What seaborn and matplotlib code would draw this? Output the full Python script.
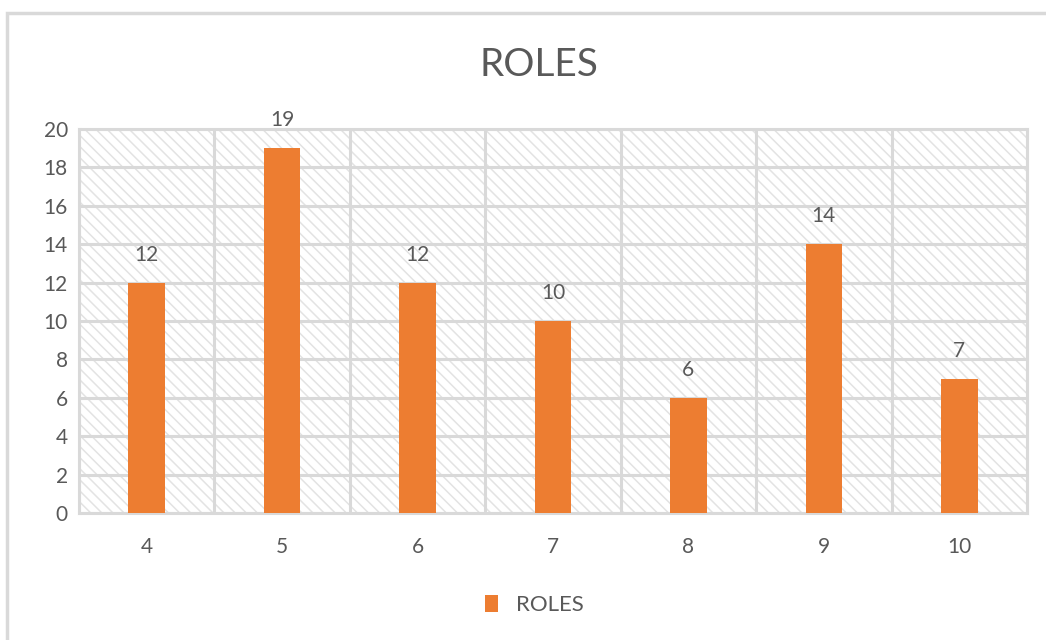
import pandas as pd
import matplotlib
matplotlib.use("Agg")
import matplotlib.pyplot as plt
from matplotlib.patches import Rectangle
import seaborn as sns

# chart data
categories = ["4", "5", "6", "7", "8", "9", "10"]
roles = [12, 19, 12, 10, 6, 14, 7]
y_ticks = [0, 2, 4, 6, 8, 10, 12, 14, 16, 18, 20]

df = pd.DataFrame({"category": categories, "ROLES": roles})

sns.set_theme(style="white")
plt.rcParams["font.family"] = ["Lato", "DejaVu Sans"]
plt.rcParams["hatch.color"] = "#e3e3e3"
plt.rcParams["hatch.linewidth"] = 1.1

orange = "#ed7d31"
grid_c = "#d9d9d9"
text_c = "#595959"

fig = plt.figure(figsize=(10.46, 6.40), dpi=100)
ax = fig.add_axes([79 / 1046, 1 - 513 / 640, (1027 - 79) / 1046, (513 - 129) / 640])

# outer chart border (only left/top visible in the reference)
fig.patches.append(Rectangle((7 / 1046, -0.05), 1.1, 1 - 13 / 640 + 0.05,
                             transform=fig.transFigure, fill=False,
                             edgecolor=grid_c, linewidth=2.5, zorder=0))

# hatched plot area background
ax.add_patch(Rectangle((0, 0), 1, 1, transform=ax.transAxes, facecolor="white",
                       edgecolor="#e3e3e3", hatch="\\\\\\", linewidth=0, zorder=0))

sns.barplot(data=df, x="category", y="ROLES", color=orange, width=0.27,
            saturation=1, linewidth=0, ax=ax, zorder=3, label="ROLES")

for i, v in enumerate(roles):
    ax.annotate(str(v), (i, v), xytext=(0, 13), textcoords="offset points",
                ha="center", va="bottom", fontsize=15, color=text_c)

ax.set_ylim(0, 20)
ax.set_xlim(-0.5, len(categories) - 0.5)
ax.set_yticks(y_ticks)
ax.set_xticks(range(len(categories)))
ax.set_xticks([i - 0.5 for i in range(len(categories) + 1)], minor=True)
ax.grid(axis="y", which="major", color=grid_c, linewidth=2.2, zorder=1)
ax.grid(axis="x", which="minor", color=grid_c, linewidth=2.2, zorder=1)
ax.grid(axis="x", which="major", visible=False)
ax.set_axisbelow(True)
for s in ax.spines.values():
    s.set_color(grid_c)
    s.set_linewidth(2.2)

ax.tick_params(axis="both", which="both", length=0, labelsize=15, labelcolor=text_c)
ax.tick_params(axis="x", pad=17)
ax.tick_params(axis="y", pad=8)
ax.set_xlabel("")
ax.set_ylabel("")

fig.text(539 / 1046, 1 - 65 / 640, "ROLES", ha="center", va="center",
         fontsize=28, color=text_c)

ax.legend(loc="center", bbox_to_anchor=(0.48, -0.24), frameon=False,
          fontsize=16, labelcolor=text_c, handlelength=0.6, handleheight=0.8,
          handletextpad=0.8)

fig.savefig("out.png", dpi=100, facecolor="white")
